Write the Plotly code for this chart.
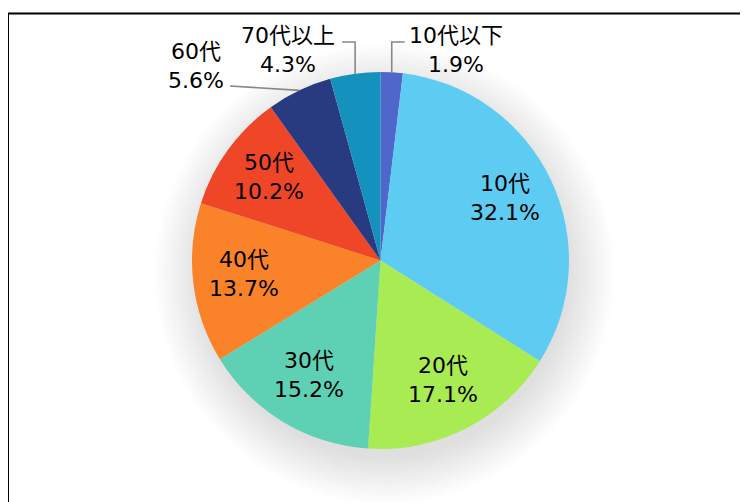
import math
import plotly.graph_objects as go

labels = ["10代以下", "10代", "20代", "30代", "40代", "50代", "60代", "70代以上"]
values = [1.9, 32.1, 17.1, 15.2, 13.7, 10.2, 5.6, 4.3]
colors = ["#4F67CA", "#5ECBF2", "#A9EB52", "#5ED1B5", "#FA8228", "#F04628", "#283B80", "#1591BE"]
outside = ["10代以下", "60代", "70代以上"]

W, H = 748, 502
OFF = 8  # page offset of the figure
CX, CY, R = 380.5, 260.5, 188.5
FONT = "DejaVu Sans, Noto Sans CJK JP"
FS = 22

def px(x):
    return (x - OFF) / W

def py(y):
    return 1 - (y - OFF) / H

fig = go.Figure(go.Pie(
    labels=labels, values=values, sort=False, direction="clockwise", rotation=0,
    marker=dict(colors=colors, line=dict(width=0)),
    textinfo="none",
    hoverinfo="label+percent",
    domain=dict(x=[px(CX - R), px(CX + R)], y=[py(CY + R), py(CY - R)]),
    showlegend=False,
))

shapes = []
# soft shadow
for k in range(16):
    rr = R - 4 + k * 3
    ox, oy = CX + 4, CY + 13
    shapes.append(dict(type="circle", xref="paper", yref="paper", layer="below",
                       x0=px(ox - rr), x1=px(ox + rr), y0=py(oy + rr), y1=py(oy - rr),
                       fillcolor="rgba(0,0,0,0.009)", line=dict(width=0)))
# frame
shapes.append(dict(type="line", xref="paper", yref="paper", x0=px(8), x1=px(770), y0=py(13.5), y1=py(13.5),
                   line=dict(color="black", width=2)))
shapes.append(dict(type="line", xref="paper", yref="paper", x0=px(8), x1=px(8), y0=py(13.5), y1=py(520),
                   line=dict(color="black", width=2)))

total = sum(values)
cum = 0
mids = {}
for l, v in zip(labels, values):
    mids[l] = (cum + v / 2) / total * 2 * math.pi
    cum += v

annotations = []
lc = dict(color="#888888", width=1.6)
for l, v in zip(labels, values):
    a = mids[l]
    txt = f"{l}<br>{v:.1f}%"
    if l not in outside:
        rl = 0.73 * R
        tx, ty = CX + rl * math.sin(a), CY - rl * math.cos(a) - 3
    else:
        sx, sy = CX + R * math.sin(a), CY - R * math.cos(a)
        if l == "60代":
            ex, ey = 230, 86
            path = f"M{px(sx)},{py(sy)} L{px(ex)},{py(ey)}"
            tx, ty = 196, 66
        else:
            sign = 1 if math.sin(a) > 0 else -1
            ey = 42
            ex = sx + sign * 13
            path = f"M{px(sx)},{py(sy)} L{px(sx)},{py(ey)} L{px(ex)},{py(ey)}"
            tx, ty = (456 if sign > 0 else 288), 50
        shapes.append(dict(type="path", xref="paper", yref="paper", path=path, line=lc))
    annotations.append(dict(xref="paper", yref="paper", x=px(tx), y=py(ty), text=txt,
                            showarrow=False, xanchor="center", yanchor="middle", align="center",
                            font=dict(family=FONT, size=FS, color="black")))

fig.update_layout(width=W, height=H, margin=dict(l=0, r=0, t=0, b=0),
                  paper_bgcolor="white", plot_bgcolor="white",
                  shapes=shapes, annotations=annotations)
fig.write_html("out.html")
